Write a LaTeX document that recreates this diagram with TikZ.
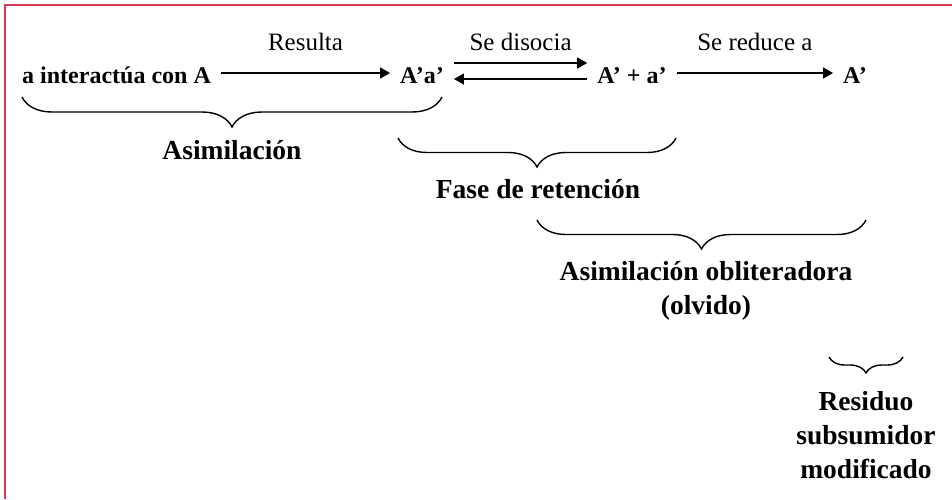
\documentclass[tikz,border=0pt]{standalone}
\usepackage{fontspec}
\setmainfont{Liberation Serif}
\usetikzlibrary{arrows.meta,decorations.pathreplacing}
\definecolor{framered}{RGB}{212,58,82}
\tikzstyle{arrow}=[-{Triangle[length=10pt,width=11pt]},line width=1.2pt]

\begin{document}
\begin{tikzpicture}
  [x=1pt,y=-1pt,
   term/.style={font=\fontsize{24}{29}\selectfont\bfseries,inner xsep=10pt,text height=20pt,text depth=0pt},
   verb/.style={font=\fontsize{25}{30}\selectfont},
   brc/.style={decorate,decoration={brace,mirror,amplitude=#1},line width=1.4pt},
   phase/.style={font=\fontsize{27.5}{34}\selectfont\bfseries,align=center,anchor=base}
  ]
  \useasboundingbox (0,0) rectangle (952,499);

  % frame
  \draw[framered,line width=2pt] (5,499) -- (5,5) -- (952,5);

  % top row
  \node[term,anchor=west] (inter) at (12,73) {a interactúa con A};
  \node[term] (aa)  at (422,73) {A’a’};
  \node[term] (apa) at (632,73) {A’ + a’};
  \node[term] (ap)  at (855,73) {A’};

  \draw[arrow] (inter) -- node[verb,above=18pt]{Resulta} (aa);
  \draw[arrow] ([yshift=10pt]aa.east) -- node[verb,above=8pt]{Se disocia} ([yshift=10pt]apa.west);
  \draw[arrow] ([yshift=-6pt]apa.west) -- ([yshift=-6pt]aa.east);
  \draw[arrow] (apa) -- node[verb,above=18pt]{Se reduce a} (ap);

  % braces (base = last line)
  \draw[brc=30] (22,97) -- (442,97);
  \node[phase] (asim) at (232,159) {Asimilación};

  \draw[brc=29] (398,138) -- (676,138);
  \node[phase] (ret) at (538,198) {Fase de retención};

  \draw[brc=29] (537,220) -- (866,220);
  \node[phase] (obl) at (706,314) {Asimilación obliteradora\\(olvido)};

  \draw[brc=16] (829,357) -- (903,357);
  \node[phase] (res) at (866,478) {Residuo\\subsumidor\\modificado};
\end{tikzpicture}
\end{document}
